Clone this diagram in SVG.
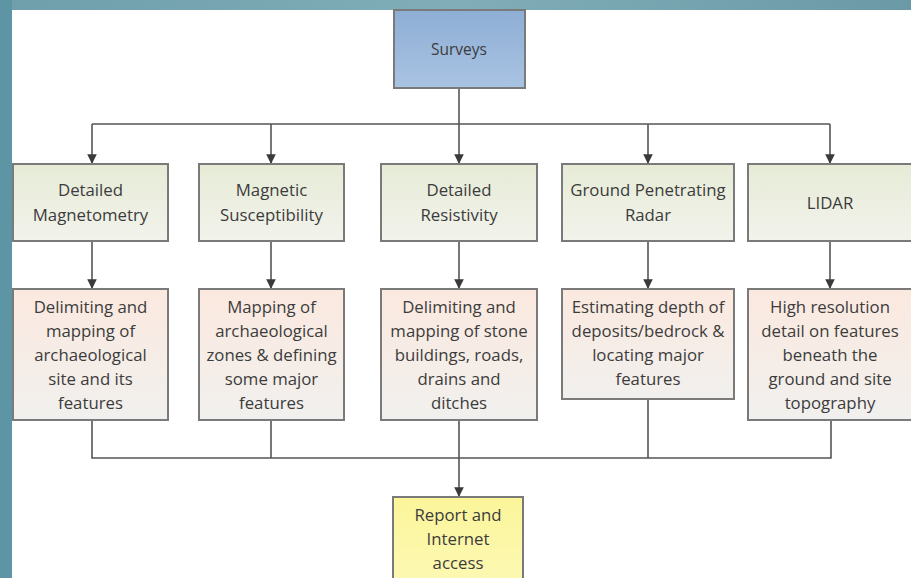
<svg xmlns="http://www.w3.org/2000/svg" width="911" height="578" viewBox="0 0 911 578">
<style>
.t{font-family:"Open Sans","Liberation Sans",sans-serif;font-size:16.8px;fill:#3c3c3c;text-anchor:middle}
.b{stroke:#7a7a7a;stroke-width:2}
.c{stroke:#555;stroke-width:1.6;fill:none}
</style>
<defs>
<linearGradient id="gTop" x1="0" y1="0" x2="1" y2="0"><stop offset="0" stop-color="#6e9fab"/><stop offset="0.5" stop-color="#80adb8"/><stop offset="1" stop-color="#6b9aa6"/></linearGradient>
<linearGradient id="gS" x1="0" y1="0" x2="0" y2="1"><stop offset="0" stop-color="#8eaed5"/><stop offset="1" stop-color="#a9c3e2"/></linearGradient>
<linearGradient id="g1" x1="0" y1="0" x2="0" y2="1"><stop offset="0" stop-color="#e6ebd6"/><stop offset="1" stop-color="#f2f3ec"/></linearGradient>
<linearGradient id="g2" x1="0" y1="0" x2="0" y2="1"><stop offset="0" stop-color="#fbe9df"/><stop offset="1" stop-color="#f1f0ee"/></linearGradient>
<linearGradient id="gR" x1="0" y1="0" x2="0" y2="1"><stop offset="0" stop-color="#fbf59a"/><stop offset="1" stop-color="#fdf9b4"/></linearGradient>
<marker id="a" viewBox="0 0 10 10" refX="9" refY="5" markerWidth="6" markerHeight="6" orient="auto" markerUnits="strokeWidth"><path d="M0,0 L10,5 L0,10 z" fill="#3a3a3a"/></marker>
</defs>
<rect x="0" y="0" width="911" height="578" fill="#ffffff"/>
<rect x="0" y="0" width="911" height="10" fill="url(#gTop)"/>
<rect x="0" y="0" width="12" height="578" fill="#5e95a4"/>

<g id="connectors">
<path class="c" d="M459,88 V124"/>
<path class="c" d="M92,124 H830"/>
<path class="c" d="M92,124 V163" marker-end="url(#a)"/>
<path class="c" d="M271,124 V163" marker-end="url(#a)"/>
<path class="c" d="M459,124 V163" marker-end="url(#a)"/>
<path class="c" d="M648,124 V163" marker-end="url(#a)"/>
<path class="c" d="M830,124 V163" marker-end="url(#a)"/>
<path class="c" d="M92,241 V288" marker-end="url(#a)"/>
<path class="c" d="M271,241 V288" marker-end="url(#a)"/>
<path class="c" d="M459,241 V288" marker-end="url(#a)"/>
<path class="c" d="M648,241 V288" marker-end="url(#a)"/>
<path class="c" d="M830,241 V288" marker-end="url(#a)"/>
<path class="c" d="M92,420 V458 H831 V420"/>
<path class="c" d="M271,420 V458"/>
<path class="c" d="M648,399 V458"/>
<path class="c" d="M459,420 V496" marker-end="url(#a)"/>
</g>

<g id="surveys">
<rect class="b" x="394" y="10" width="131" height="78" fill="url(#gS)" stroke="#4d6b8f"/>
<text class="t" x="459" y="55" fill="#1f3450" style="font-size:15.5px">Surveys</text>
</g>

<g id="magnetometry">
<rect class="b" x="13" y="164" width="155" height="77" fill="url(#g1)"/>
<text class="t" x="90.5" y="196">Detailed</text>
<text class="t" x="90.5" y="221">Magnetometry</text>
</g>
<g id="susceptibility">
<rect class="b" x="199" y="164" width="145" height="77" fill="url(#g1)"/>
<text class="t" x="271.5" y="196">Magnetic</text>
<text class="t" x="271.5" y="221">Susceptibility</text>
</g>
<g id="resistivity">
<rect class="b" x="381" y="164" width="156" height="77" fill="url(#g1)"/>
<text class="t" x="459" y="196">Detailed</text>
<text class="t" x="459" y="221">Resistivity</text>
</g>
<g id="gpr">
<rect class="b" x="562" y="164" width="172" height="77" fill="url(#g1)"/>
<text class="t" x="648" y="196">Ground Penetrating</text>
<text class="t" x="648" y="221">Radar</text>
</g>
<g id="lidar">
<rect class="b" x="748" y="164" width="170" height="77" fill="url(#g1)"/>
<text class="t" x="830" y="209">LIDAR</text>
</g>

<g id="out1">
<rect class="b" x="13" y="289" width="155" height="131" fill="url(#g2)"/>
<text class="t" x="90.5" y="313">Delimiting and</text>
<text class="t" x="90.5" y="337">mapping of</text>
<text class="t" x="90.5" y="361">archaeological</text>
<text class="t" x="90.5" y="385">site and its</text>
<text class="t" x="90.5" y="409">features</text>
</g>
<g id="out2">
<rect class="b" x="199" y="289" width="145" height="131" fill="url(#g2)"/>
<text class="t" x="271.5" y="313">Mapping of</text>
<text class="t" x="271.5" y="337">archaeological</text>
<text class="t" x="271.5" y="361">zones &amp; defining</text>
<text class="t" x="271.5" y="385">some major</text>
<text class="t" x="271.5" y="409">features</text>
</g>
<g id="out3">
<rect class="b" x="381" y="289" width="156" height="131" fill="url(#g2)"/>
<text class="t" x="459" y="313">Delimiting and</text>
<text class="t" x="459" y="337">mapping of stone</text>
<text class="t" x="459" y="361">buildings, roads,</text>
<text class="t" x="459" y="385">drains and</text>
<text class="t" x="459" y="409">ditches</text>
</g>
<g id="out4">
<rect class="b" x="562" y="289" width="172" height="110" fill="url(#g2)"/>
<text class="t" x="648" y="313">Estimating depth of</text>
<text class="t" x="648" y="337">deposits/bedrock &amp;</text>
<text class="t" x="648" y="361">locating major</text>
<text class="t" x="648" y="385">features</text>
</g>
<g id="out5">
<rect class="b" x="748" y="289" width="170" height="131" fill="url(#g2)"/>
<text class="t" x="830" y="313">High resolution</text>
<text class="t" x="830" y="337">detail on features</text>
<text class="t" x="830" y="361">beneath the</text>
<text class="t" x="830" y="385">ground and site</text>
<text class="t" x="830" y="409">topography</text>
</g>

<g id="report">
<rect class="b" x="393" y="497" width="130" height="90" fill="url(#gR)" stroke="#8a8a6a"/>
<text class="t" x="458" y="521" fill="#3a3a20">Report and</text>
<text class="t" x="458" y="545" fill="#3a3a20">Internet</text>
<text class="t" x="458" y="569" fill="#3a3a20">access</text>
</g>
</svg>
